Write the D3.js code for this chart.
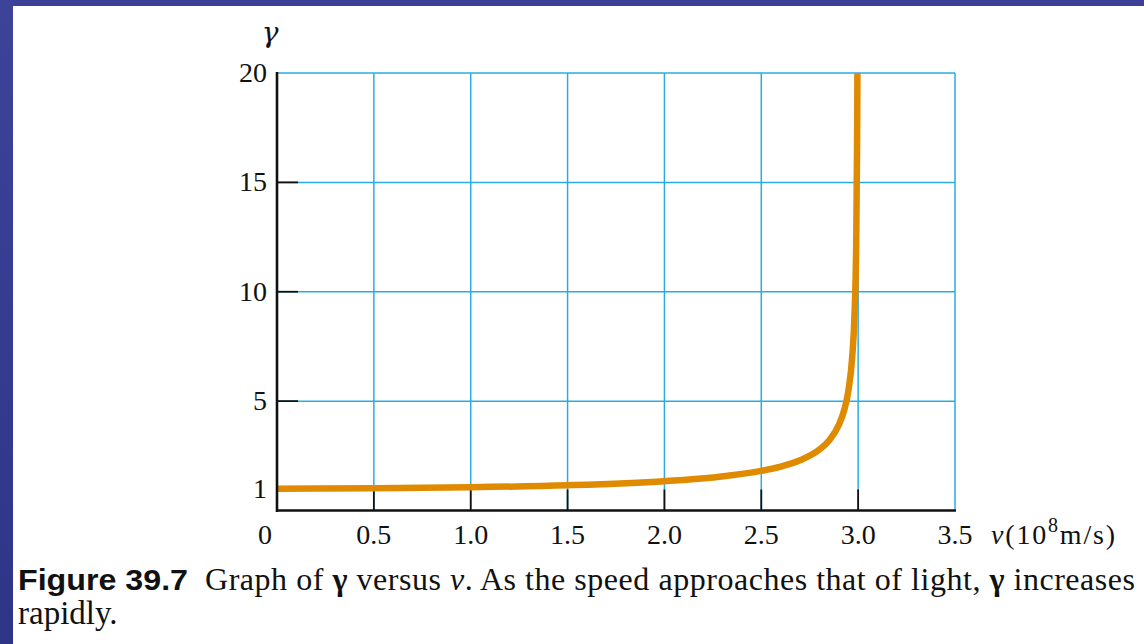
<!DOCTYPE html>
<html><head><meta charset="utf-8">
<script src="https://cdn.jsdelivr.net/npm/d3@7"></script>
<style>html,body{margin:0;padding:0;background:#fff;}svg{display:block;}</style>
</head><body>
<script>
// ---- data ----
const speed = [0, 0.5, 1.0, 1.5, 2.0, 2.25, 2.5, 2.6, 2.7, 2.8, 2.85, 2.9, 2.93, 2.95, 2.97, 2.98, 2.99, 2.995, 2.9963];
const gamma = [1, 1.014, 1.061, 1.155, 1.342, 1.512, 1.809, 2.005, 2.294, 2.785, 3.203, 3.906, 4.657, 5.5, 7.089, 8.674, 12.25, 17.33, 20];
const xTicks = [0, 0.5, 1.0, 1.5, 2.0, 2.5, 3.0, 3.5];
const xTickLabels = ["0", "0.5", "1.0", "1.5", "2.0", "2.5", "3.0", "3.5"];
const yTicks = [1, 5, 10, 15, 20];
const yTickLabels = ["1", "5", "10", "15", "20"];
const xGrid = [0.5, 1.0, 1.5, 2.0, 2.5, 3.0, 3.5];
const yGrid = [5, 10, 15, 20];
const xMarks = [0.5, 1.0, 1.5, 2.0, 2.5, 3.0];
const yMarks = [1, 5, 10, 15];

const W = 1144, H = 644;
const svg = d3.select("body").append("svg").attr("width", W).attr("height", H);

// frame
const defs = svg.append("defs");
const grad = defs.append("linearGradient").attr("id", "fr").attr("x1", 0).attr("y1", 0).attr("x2", 0).attr("y2", 1);
grad.append("stop").attr("offset", "0%").attr("stop-color", "#3d4399");
grad.append("stop").attr("offset", "100%").attr("stop-color", "#2e3486");
svg.append("rect").attr("x", 0).attr("y", 0).attr("width", W).attr("height", 6).attr("fill", "#3b3f95");
svg.append("rect").attr("x", 0).attr("y", 0).attr("width", 13).attr("height", H).attr("fill", "url(#fr)");

const x = d3.scaleLinear().domain([0, 3.5]).range([277, 955]);
const y = d3.scaleLinear().domain([0, 20]).range([510.5, 73]);

const blue = "#2aace2";
// grid
svg.append("g").selectAll("line").data(xGrid).join("line")
  .attr("x1", d => x(d)).attr("x2", d => x(d)).attr("y1", y(20)).attr("y2", y(0))
  .attr("stroke", blue).attr("stroke-width", 1.5);
svg.append("g").selectAll("line").data(yGrid).join("line")
  .attr("x1", x(0)).attr("x2", x(3.5)).attr("y1", d => y(d)).attr("y2", d => y(d))
  .attr("stroke", blue).attr("stroke-width", 1.5);

// black tick marks
svg.append("g").selectAll("line").data(xMarks).join("line")
  .attr("x1", d => x(d)).attr("x2", d => x(d)).attr("y1", y(0)).attr("y2", y(0) - 21)
  .attr("stroke", "#111").attr("stroke-width", 1.8);
svg.append("g").selectAll("line").data(yMarks).join("line")
  .attr("x1", x(0)).attr("x2", x(0) + 21).attr("y1", d => y(d)).attr("y2", d => y(d))
  .attr("stroke", "#111").attr("stroke-width", 1.8);

// curve
const pts = speed.map((v, i) => [v, gamma[i]]);
svg.append("path").datum(pts)
  .attr("d", d3.line().x(d => x(d[0])).y(d => y(d[1])).curve(d3.curveMonotoneX))
  .attr("fill", "none").attr("stroke", "#e08a00").attr("stroke-width", 6.5);

// axes lines
svg.append("line").attr("x1", x(0)).attr("x2", x(0)).attr("y1", y(20) - 1).attr("y2", y(0) + 1.5)
  .attr("stroke", "#111").attr("stroke-width", 2.6);
svg.append("line").attr("x1", x(0)).attr("x2", x(3.5) + 1).attr("y1", y(0)).attr("y2", y(0))
  .attr("stroke", "#111").attr("stroke-width", 2.6);

const serif = "'Liberation Serif', 'DejaVu Serif', serif";
// tick labels
svg.append("g").selectAll("text").data(xTicks).join("text")
  .attr("x", (d, i) => i === 0 ? x(d) - 12 : x(d)).attr("y", 544)
  .attr("text-anchor", "middle").attr("font-family", serif).attr("font-size", 28).attr("fill", "#111")
  .text((d, i) => xTickLabels[i]);
svg.append("g").selectAll("text").data(yTicks).join("text")
  .attr("x", 267).attr("y", d => y(d) + 9)
  .attr("text-anchor", "end").attr("font-family", serif).attr("font-size", 28).attr("fill", "#111")
  .text((d, i) => yTickLabels[i]);

// axis titles
svg.append("text").attr("x", 270).attr("y", 42).attr("text-anchor", "middle")
  .attr("font-family", "'DejaVu Serif', serif").attr("font-style", "italic").attr("font-size", 28).attr("fill", "#111").text("γ");
const xt = svg.append("text").attr("x", 991).attr("y", 544)
  .attr("font-family", serif).attr("font-size", 28).attr("fill", "#111")
  .attr("textLength", 124).attr("lengthAdjust", "spacing");
xt.append("tspan").attr("font-style", "italic").text("v");
xt.append("tspan").text("(10");
xt.append("tspan").attr("font-size", 20).attr("dy", -12).text("8");
xt.append("tspan").attr("dy", 12).text("m/s)");

// caption
svg.append("text").attr("x", 18).attr("y", 590).attr("fill", "#111")
  .attr("font-family", "'Liberation Sans', Arial, sans-serif").attr("font-weight", "bold")
  .attr("font-size", 30).attr("textLength", 170).attr("lengthAdjust", "spacingAndGlyphs").text("Figure 39.7");
const cap = svg.append("text").attr("x", 205).attr("y", 590).attr("fill", "#111")
  .attr("font-family", serif).attr("font-size", 32).attr("textLength", 930).attr("lengthAdjust", "spacing");
cap.append("tspan").text("Graph of ");
cap.append("tspan").attr("font-weight", "bold").text("γ");
cap.append("tspan").text(" versus ");
cap.append("tspan").attr("font-style", "italic").text("v");
cap.append("tspan").text(". As the speed approaches that of light, ");
cap.append("tspan").attr("font-weight", "bold").text("γ");
cap.append("tspan").text(" increases");
svg.append("text").attr("x", 18).attr("y", 624).attr("fill", "#111")
  .attr("font-family", serif).attr("font-size", 33).text("rapidly.");
</script>
</body></html>
